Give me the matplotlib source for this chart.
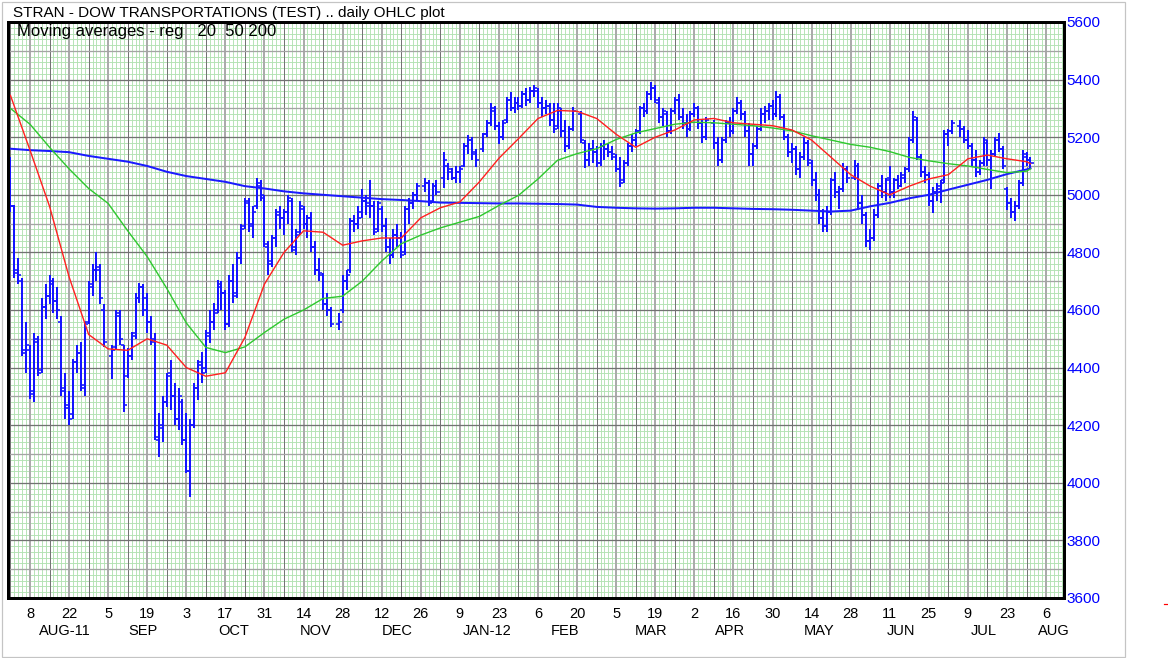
import numpy as np
import pandas as pd
import matplotlib
matplotlib.use("Agg")
import matplotlib.pyplot as plt
from matplotlib.patches import Rectangle
from matplotlib.lines import Line2D

# ---- data ----------------------------------------------------------------
HOLIDAYS = ["2011-09-05", "2011-11-24", "2011-12-26", "2012-01-02",
            "2012-01-16", "2012-02-20", "2012-04-06", "2012-05-28",
            "2012-07-04"]

# one row per week
opens = [
    5120, 4960, 4740, 4700, 4450,
    4460, 4320, 4490, 4390, 4610,
    4650, 4690, 4630, 4560, 4320,
    4270, 4240, 4420, 4450, 4330,
    4560, 4680, 4740, 4740, 4600,
    4440, 4470, 4580, 4480,
    4370, 4440, 4520, 4640, 4680,
    4600, 4560, 4490, 4150, 4190,
    4280, 4380, 4300, 4220, 4280,
    4150, 4040, 4200, 4330, 4410,
    4400, 4510, 4560, 4590, 4680,
    4660, 4550, 4700, 4660, 4780,
    4890, 4970, 4900, 4960, 5030,
    4990, 4820, 4770, 4850, 4930,
    4920, 4940, 4980, 4820, 4870,
    4950, 4900, 4920, 4820, 4740,
    4720, 4620, 4600, 4550,
    4600, 4700, 4740, 4910, 4900,
    4940, 4980, 4960, 4960, 4880,
    4950, 4890, 4820, 4790, 4860,
    4850, 4800, 4950, 4970, 5000,
    5030, 5040, 4980, 5030,
    5060, 5100, 5080, 5060,
    5080, 5100, 5170, 5190, 5140,
    5160, 5210, 5250, 5290,
    5240, 5200, 5260, 5330, 5300,
    5320, 5310, 5350, 5330, 5360,
    5360, 5320, 5300, 5310, 5260,
    5240, 5290, 5220, 5170, 5230,
    5280, 5180, 5120, 5160,
    5150, 5110, 5170, 5160, 5150,
    5130, 5090, 5050, 5110, 5170,
    5190, 5220, 5300, 5290, 5350,
    5370, 5320, 5270, 5280, 5220,
    5290, 5330, 5270, 5250, 5230,
    5280, 5300, 5250, 5200,
    5250, 5180, 5120, 5190, 5250,
    5220, 5290, 5320, 5280, 5220,
    5140, 5170, 5230, 5280, 5290,
    5310, 5280, 5340, 5270, 5200,
    5150, 5160, 5090, 5130, 5180,
    5110, 5050, 5000, 4920, 4890,
    4940, 5050, 5010, 5020, 5090,
    5060, 5100, 4970, 4930,
    4840, 4850, 4930, 5030, 5010,
    5060, 5010, 5050, 5030, 5060,
    5090, 5190, 5260, 5130, 5080,
    5070, 4980, 5010, 5020, 5050,
    5210, 5220, 5240, 5230,
    5190, 5170, 5120, 5080, 5110,
    5180, 5120, 5140, 5190, 5160,
    5020, 4970, 4940, 4960, 5040,
    5130, 5120,
]
highs = [
    5130, 4965, 4780, 4710, 4560,
    4480, 4520, 4510, 4640, 4690,
    4720, 4710, 4680, 4580, 4380,
    4320, 4430, 4480, 4490, 4560,
    4700, 4760, 4800, 4760, 4620,
    4480, 4600, 4600, 4480,
    4468, 4524, 4660, 4694, 4690,
    4660, 4580, 4520, 4243, 4300,
    4380, 4427, 4346, 4330, 4290,
    4243, 4220, 4346, 4427, 4455,
    4530, 4600, 4625, 4704, 4700,
    4670, 4720, 4760, 4800, 4900,
    4990, 4990, 4960, 5060, 5050,
    5000, 4840, 4860, 4950, 4960,
    4950, 5000, 4990, 4880, 4980,
    4960, 4930, 4940, 4840, 4780,
    4730, 4660, 4610, 4590,
    4720, 4740, 4920, 4930, 4960,
    5020, 5000, 5050, 4980, 4980,
    4960, 4920, 4850, 4880, 4900,
    4870, 4960, 4990, 5010, 5040,
    5060, 5050, 5040, 5050,
    5150, 5110, 5093, 5100,
    5100, 5180, 5208, 5200, 5160,
    5216, 5260, 5318, 5310,
    5253, 5260, 5340, 5357, 5340,
    5340, 5360, 5370, 5375, 5380,
    5370, 5340, 5330, 5320, 5318,
    5318, 5300, 5260, 5240, 5305,
    5290, 5190, 5180, 5190,
    5170, 5180, 5190, 5180, 5170,
    5140, 5131, 5120, 5180, 5210,
    5230, 5310, 5320, 5360, 5390,
    5380, 5340, 5300, 5290, 5300,
    5340, 5350, 5300, 5280, 5290,
    5320, 5310, 5260, 5270,
    5260, 5200, 5200, 5260, 5270,
    5300, 5340, 5330, 5290, 5250,
    5180, 5240, 5300, 5310, 5320,
    5330, 5360, 5350, 5280, 5210,
    5180, 5170, 5150, 5200, 5190,
    5120, 5080, 5020, 4950, 4960,
    5060, 5080, 5030, 5110, 5100,
    5120, 5110, 5000, 4940,
    4880, 4950, 5040, 5070, 5060,
    5100, 5060, 5070, 5080, 5097,
    5200, 5290, 5270, 5140, 5100,
    5080, 5027, 5040, 5050, 5225,
    5230, 5260, 5260, 5240,
    5225, 5180, 5155, 5120, 5200,
    5190, 5155, 5200, 5215, 5170,
    5027, 4990, 4980, 5050, 5155,
    5150, 5130,
]
lows = [
    4940, 4710, 4690, 4440, 4380,
    4290, 4280, 4370, 4380, 4570,
    4620, 4590, 4570, 4300, 4220,
    4200, 4220, 4380, 4320, 4300,
    4550, 4650, 4700, 4620, 4470,
    4360, 4460, 4480, 4245,
    4364, 4427, 4500, 4625, 4580,
    4520, 4480, 4150, 4090, 4140,
    4263, 4253, 4200, 4184, 4130,
    4034, 3950, 4190, 4288, 4346,
    4380, 4485, 4530, 4590, 4600,
    4530, 4540, 4625, 4640, 4760,
    4880, 4870, 4850, 4950, 4980,
    4820, 4720, 4750, 4820, 4880,
    4860, 4900, 4800, 4790, 4860,
    4880, 4850, 4800, 4720, 4700,
    4600, 4580, 4540, 4530,
    4590, 4670, 4730, 4870, 4880,
    4920, 4930, 4920, 4860, 4870,
    4870, 4800, 4760, 4780, 4820,
    4780, 4790, 4900, 4950, 4980,
    5010, 4960, 4970, 5000,
    5024, 5050, 5051, 5040,
    5040, 5097, 5140, 5120, 5097,
    5150, 5200, 5240, 5225,
    5177, 5190, 5250, 5290, 5284,
    5295, 5300, 5310, 5320, 5340,
    5300, 5270, 5280, 5240, 5215,
    5230, 5200, 5149, 5160, 5220,
    5180, 5093, 5100, 5110,
    5097, 5100, 5120, 5130, 5120,
    5080, 5027, 5040, 5100, 5150,
    5170, 5210, 5270, 5280, 5330,
    5320, 5250, 5240, 5200, 5210,
    5280, 5260, 5230, 5200, 5220,
    5270, 5230, 5180, 5190,
    5160, 5100, 5110, 5180, 5200,
    5210, 5280, 5260, 5200, 5100,
    5100, 5160, 5220, 5250, 5260,
    5260, 5270, 5260, 5190, 5130,
    5110, 5070, 5060, 5120, 5100,
    5030, 4980, 4900, 4870, 4870,
    4930, 4990, 4950, 5010, 5040,
    5050, 4950, 4900, 4820,
    4810, 4840, 4920, 4990, 4980,
    4990, 4990, 5020, 5027, 5040,
    5080, 5180, 5120, 5062, 5040,
    4960, 4937, 4980, 4970, 5040,
    5170, 5210, 5200, 5180,
    5160, 5100, 5062, 5070, 5100,
    5100, 5020, 5130, 5150, 5090,
    4947, 4920, 4910, 4950, 5030,
    5100, 5090,
]
closes = [
    4960, 4730, 4720, 4460, 4480,
    4310, 4500, 4380, 4610, 4650,
    4700, 4630, 4600, 4330, 4260,
    4220, 4420, 4450, 4340, 4550,
    4690, 4740, 4750, 4640, 4490,
    4460, 4590, 4500, 4270,
    4440, 4510, 4640, 4680, 4640,
    4560, 4500, 4160, 4200, 4280,
    4370, 4300, 4220, 4300, 4150,
    4040, 4200, 4330, 4420, 4380,
    4520, 4560, 4600, 4690, 4660,
    4550, 4700, 4650, 4780, 4880,
    4980, 4890, 4940, 5040, 5000,
    4830, 4760, 4850, 4940, 4920,
    4940, 4990, 4810, 4860, 4960,
    4900, 4920, 4820, 4740, 4730,
    4620, 4600, 4550, 4560,
    4700, 4720, 4910, 4900, 4920,
    4980, 4970, 4960, 4870, 4970,
    4890, 4820, 4790, 4860, 4850,
    4790, 4950, 4970, 5000, 5030,
    5040, 4970, 5030, 5010,
    5120, 5090, 5060, 5080,
    5090, 5170, 5190, 5150, 5120,
    5210, 5250, 5300, 5240,
    5200, 5250, 5330, 5300, 5320,
    5310, 5350, 5330, 5360, 5370,
    5320, 5300, 5310, 5260, 5230,
    5300, 5220, 5170, 5230, 5290,
    5190, 5120, 5160, 5150,
    5110, 5170, 5160, 5150, 5140,
    5090, 5040, 5110, 5170, 5190,
    5220, 5300, 5290, 5350, 5370,
    5330, 5270, 5290, 5220, 5290,
    5330, 5270, 5250, 5230, 5280,
    5300, 5250, 5200, 5260,
    5180, 5120, 5190, 5250, 5220,
    5290, 5320, 5280, 5220, 5140,
    5170, 5230, 5280, 5290, 5310,
    5280, 5340, 5270, 5200, 5150,
    5160, 5090, 5130, 5180, 5120,
    5050, 5000, 4920, 4890, 4940,
    5050, 5010, 5020, 5090, 5060,
    5100, 4970, 4930, 4840,
    4850, 4930, 5030, 5010, 5050,
    5010, 5050, 5030, 5070, 5090,
    5190, 5270, 5130, 5080, 5070,
    4980, 5010, 5030, 5040, 5210,
    5220, 5250, 5230, 5190,
    5170, 5120, 5080, 5110, 5190,
    5120, 5140, 5190, 5160, 5100,
    4970, 4940, 4960, 5040, 5140,
    5120, 5110,
]

# moving averages, sampled each Monday (plus the last bar)
ma20 = [5345, 5155, 4960, 4715, 4515, 4465, 4460, 4500, 4478, 4400, 4370,
        4382, 4505, 4690, 4800, 4875, 4870, 4825, 4840, 4850, 4850, 4920,
        4955, 4975, 5045, 5127, 5195, 5265, 5293, 5290, 5265, 5210, 5165,
        5200, 5225, 5260, 5265, 5250, 5245, 5240, 5225, 5190, 5130, 5070,
        5030, 5000, 5030, 5055, 5070, 5125, 5138, 5125, 5115, 5108]
ma50 = [5300, 5245, 5165, 5090, 5022, 4970, 4875, 4785, 4675, 4555, 4470,
        4452, 4472, 4522, 4568, 4600, 4640, 4648, 4700, 4770, 4830, 4860,
        4885, 4905, 4925, 4963, 4998, 5055, 5120, 5143, 5160, 5192, 5215,
        5230, 5245, 5252, 5250, 5245, 5240, 5232, 5222, 5205, 5190, 5175,
        5165, 5150, 5130, 5118, 5108, 5100, 5088, 5077, 5082, 5090]
ma200 = [5160, 5155, 5152, 5148, 5135, 5125, 5115, 5100, 5080, 5065, 5055,
         5045, 5030, 5022, 5012, 5005, 5000, 4995, 4990, 4985, 4982, 4978,
         4973, 4972, 4971, 4970, 4970, 4969, 4968, 4966, 4958, 4955, 4953,
         4952, 4953, 4955, 4955, 4953, 4951, 4950, 4948, 4945, 4942, 4945,
         4960, 4972, 4988, 5000, 5018, 5035, 5052, 5072, 5088, 5092]

MONTHS = ["AUG-11", "SEP", "OCT", "NOV", "DEC", "JAN-12", "FEB", "MAR",
          "APR", "MAY", "JUN", "JUL", "AUG"]
MONTH_AT = ["2011-08-19", "2011-09-16", "2011-10-19", "2011-11-17",
            "2011-12-16", "2012-01-18", "2012-02-15", "2012-03-16",
            "2012-04-13", "2012-05-16", "2012-06-14", "2012-07-13",
            "2012-08-08"]
Y_TICKS = list(range(3600, 5601, 200))

# ---- layout / colours --------------------------------------------------------
W, H = 1168, 658
PX = 0.72                     # one pixel in points at 100 dpi
BAR = "#1414ff"
FINE = "#b2e2b2"
FONT = "Liberation Sans"
ORIGIN = np.datetime64("2011-08-08")


def wd(dates):
    """weekday index counted from Mon 8 Aug 2011 (x scale of the chart)"""
    d = pd.to_datetime(dates).values.astype("datetime64[D]")
    return np.busday_count(ORIGIN, d)


def fig_y(px):
    return 1 - px / H


days = pd.bdate_range("2011-08-01", "2012-07-31")
days = days[~days.isin(pd.to_datetime(HOLIDAYS))]
assert len(days) == len(closes) == len(opens) == len(highs) == len(lows)
x = wd(days)

ma_days = list(pd.date_range("2011-08-01", "2012-07-30", freq="W-MON")) + \
    [pd.Timestamp("2012-07-31")]
xm = wd(ma_days)

fig = plt.figure(figsize=(W / 100, H / 100), dpi=100)
fig.patch.set_facecolor("white")
ax = fig.add_axes([8 / W, (H - 598) / H, (1064 - 8) / W, (598 - 22) / H])
x0, x1 = (8 - 30) / 3.908, (1064 - 30) / 3.908
ax.set_xlim(x0, x1)
ax.set_ylim(3600, 5600)

# chart-paper grid
ax.vlines(np.arange(-5, 265), 3600, 5600, color=FINE, lw=0.9 * PX, zorder=1)
ax.hlines(np.arange(3620, 5600, 20), x0, x1, color=FINE, lw=0.9 * PX, zorder=1)
mondays = np.arange(-5, 265, 5)
ax.vlines(mondays[mondays % 10 != 0], 3600, 5600, color="#747474",
          lw=1.0 * PX, zorder=2)
ax.vlines(mondays[mondays % 10 == 0], 3600, 5600, color="#ababab",
          lw=2.0 * PX, zorder=2)
ax.hlines(np.arange(3700, 5600, 200), x0, x1, color="#a4a4a4", lw=1.3 * PX,
          zorder=2)
ax.hlines(np.arange(3800, 5600, 200), x0, x1, color="#727272", lw=1.3 * PX,
          zorder=2)

# OHLC bars
ax.vlines(x, lows, highs, color=BAR, lw=2.0 * PX, zorder=4)
ax.hlines(opens, x - 0.8, x, color=BAR, lw=1.6 * PX, zorder=4)
ax.hlines(closes, x, x + 0.8, color=BAR, lw=1.6 * PX, zorder=4)

# moving averages
ax.plot(xm, ma200, color="#1a1aff", lw=2.0 * PX, zorder=5)
ax.plot(xm, ma50, color="#2ec82e", lw=1.4 * PX, zorder=5)
ax.plot(xm, ma20, color="#ff2020", lw=1.4 * PX, zorder=5)

for s in ax.spines.values():
    s.set_linewidth(3 * PX)
    s.set_color("black")
    s.set_zorder(6)

# y axis on the right, blue
ax.yaxis.tick_right()
ax.set_yticks(Y_TICKS)
ax.set_yticklabels([str(v) for v in Y_TICKS], color="#0000ff",
                   fontsize=11, family=FONT)
ax.tick_params(axis="y", length=0, pad=2)

# x axis: day numbers every other Monday, month names below
ax.set_xticks([])
tick_days = pd.date_range("2011-08-08", "2012-08-06", freq="2W-MON")
xt = ax.get_xaxis_transform()
ax_y = lambda px: -(px - 598) / 576
for d, xv in zip(tick_days, wd(tick_days)):
    ax.text(xv, ax_y(618), str(d.day), transform=xt, ha="center",
            va="baseline", fontsize=10.5, family=FONT)
for lab, xv in zip(MONTHS, wd(MONTH_AT)):
    ax.text(xv, ax_y(635), lab, transform=xt, ha="center",
            va="baseline", fontsize=10.5, family=FONT)

fig.text(13 / W, fig_y(13.5), "STRAN - DOW TRANSPORTATIONS (TEST) .. daily OHLC plot",
         ha="left", va="center", fontsize=11, family=FONT)
fig.text(17 / W, fig_y(31.5), "Moving averages - reg   20  50 200",
         ha="left", va="center", fontsize=12, family=FONT, zorder=10)

# outer frame and the stray red mark at the right edge
fig.add_artist(Rectangle((2 / W, 1.5 / H), (1125 - 2) / W, (656 - 1.5) / H,
                         transform=fig.transFigure, fill=False,
                         edgecolor="#c4c4c4", lw=1.2 * PX))
fig.add_artist(Line2D([1164 / W, 1168 / W], [fig_y(604), fig_y(604)],
                      transform=fig.transFigure, color="red", lw=1.2 * PX))

fig.savefig("out.png", dpi=100)
